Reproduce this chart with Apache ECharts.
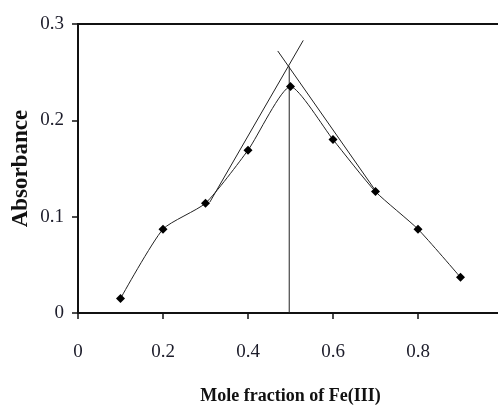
<!DOCTYPE html>
<html>
<head>
<meta charset="utf-8">
<script src="https://cdn.jsdelivr.net/npm/echarts@6/dist/echarts.min.js"></script>
<style>
  html, body { margin: 0; padding: 0; background: #fff; }
  #chart { width: 498px; height: 408px; }
</style>
</head>
<body>
<div id="chart"></div>
<script>
// Job's plot data
const moleFraction = [0.1, 0.2, 0.3, 0.4, 0.5, 0.6, 0.7, 0.8, 0.9];
const absorbance = [0.015, 0.087, 0.114, 0.169, 0.235, 0.18, 0.126, 0.087, 0.037];

// tangent lines and the drop line at the intersection
const leftTangent = [[0.31, 0.115], [0.53, 0.283]];
const rightTangent = [[0.47, 0.272], [0.70, 0.127]];
const dropLine = [[0.497, 0], [0.497, 0.256]];

const xTickLabels = ["0", "0.2", "0.4", "0.6", "0.8"];
const yTickLabels = ["0", "0.1", "0.2", "0.3"];

const fontFamily = "Liberation Serif";
const labelColor = "#1c1c2a";

const chart = echarts.init(document.getElementById("chart"), null, { renderer: "canvas" });

const thinLine = (data) => ({
  type: "line",
  data: data,
  symbol: "none",
  silent: true,
  lineStyle: { color: "#222", width: 1 },
});

chart.setOption({
  animation: false,
  grid: {
    left: 78,
    top: 24,
    width: 425,
    height: 289,
    outerBoundsMode: "none",
    containLabel: false,
    show: true,
    borderColor: "#111",
    borderWidth: 2,
  },
  xAxis: {
    type: "value",
    min: 0,
    max: 1,
    interval: 0.2,
    name: "Mole fraction of Fe(III)",
    nameLocation: "middle",
    nameGap: 74,
    nameMoveOverlap: false,
    nameTextStyle: { color: "#111", fontFamily, fontWeight: "bold", fontSize: 18 },
    axisLine: { show: true, lineStyle: { color: "#111", width: 2 } },
    axisTick: { show: true, inside: false, length: 6, lineStyle: { color: "#111", width: 1.5 } },
    axisLabel: {
      color: labelColor,
      fontFamily,
      fontSize: 19,
      margin: 30,
      showMaxLabel: false,
      formatter: (v) => xTickLabels[Math.round(v / 0.2)] || "",
    },
    splitLine: { show: false },
  },
  yAxis: {
    type: "value",
    min: 0,
    max: 0.3,
    interval: 0.1,
    name: "Absorbance",
    nameLocation: "middle",
    nameGap: 45,
    nameMoveOverlap: false,
    nameTextStyle: { color: "#111", fontFamily, fontWeight: "bold", fontSize: 23 },
    axisLine: { show: true, lineStyle: { color: "#111", width: 2 } },
    axisTick: { show: true, inside: false, length: 6, lineStyle: { color: "#111", width: 1.5 } },
    axisLabel: {
      color: labelColor,
      fontFamily,
      fontSize: 19,
      margin: 14,
      formatter: (v) => yTickLabels[Math.round(v / 0.1)] || "",
    },
    splitLine: { show: false },
  },
  series: [
    thinLine(leftTangent),
    thinLine(rightTangent),
    thinLine(dropLine),
    {
      type: "line",
      data: moleFraction.map((x, i) => [x, absorbance[i]]),
      smooth: 0.2,
      symbol: "diamond",
      symbolSize: 9,
      itemStyle: { color: "#000" },
      lineStyle: { color: "#222", width: 1 },
    },
  ],
});
</script>
</body>
</html>
